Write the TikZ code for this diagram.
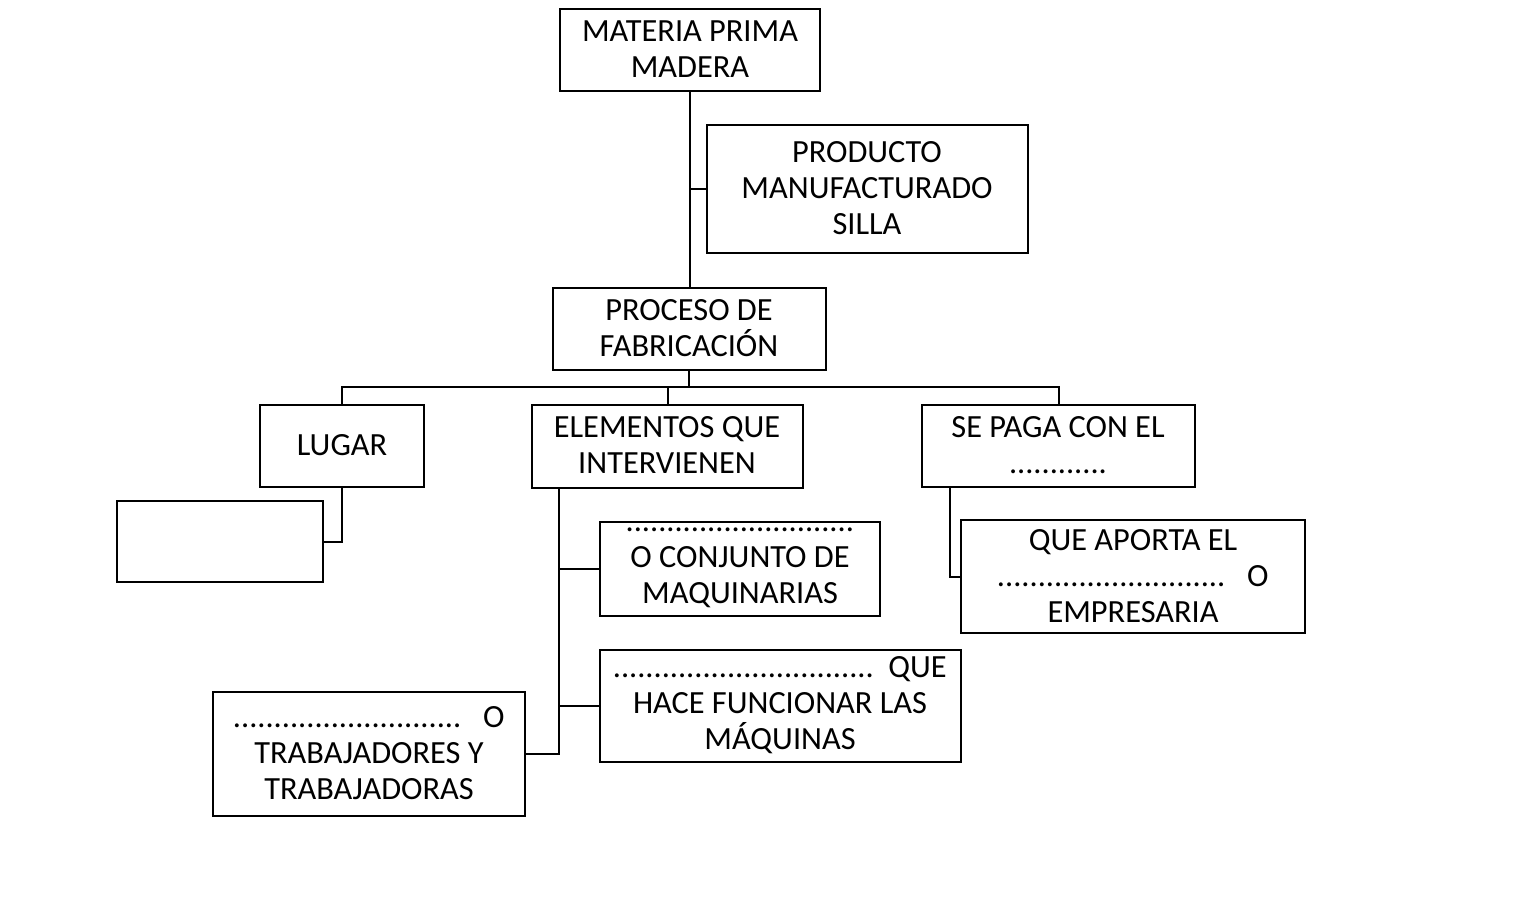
\documentclass[tikz,border=0pt]{standalone}
\usepackage{fontspec}
\setmainfont{Carlito}
\begin{document}
\begin{tikzpicture}[x=0.01cm,y=-0.01cm,
  box/.style={draw,line width=0.6pt,minimum width=#1},
  lbl/.style={align=center,font=\fontsize{9.2}{10.3}\selectfont,inner sep=0pt},
  ln/.style={line width=0.6pt}]
\useasboundingbox (0,0) rectangle (1519,921);
\newcommand\bx[5]{\draw[ln] (#2,#3) rectangle (#4,#5); \coordinate (#1) at ({(#2+#4)/2},{(#3+#5)/2});}
\bx{A}{560}{9}{820}{91}
\bx{B}{707}{125}{1028}{253}
\bx{C}{553}{288}{826}{370}
\bx{D}{260}{405}{424}{487}
\bx{E}{532}{405}{803}{488}
\bx{F}{922}{405}{1195}{487}
\bx{G}{117}{501}{323}{582}
\bx{H}{600}{522}{880}{616}
\bx{I}{600}{650}{961}{762}
\bx{J}{213}{692}{525}{816}
\bx{K}{961}{520}{1305}{633}
\node[lbl] (tA) at (690,49) {MATERIA PRIMA\\MADERA};
\node[lbl] (tB) at (867,188) {PRODUCTO\\MANUFACTURADO\\SILLA};
\node[lbl] (tC) at (689,328) {PROCESO DE\\FABRICACIÓN};
\node[lbl] (tD) at (342,445) {LUGAR};
\node[lbl] (tE) at (667,445) {ELEMENTOS QUE\\INTERVIENEN};
\node[lbl] (tF) at (1058,445) {SE PAGA CON EL\\............};
\node[lbl] (tH) at (740,568) {............................\\O CONJUNTO DE\\MAQUINARIAS};
\node[lbl] (tI) at (780,705) {................................\ \ QUE\\HACE FUNCIONAR LAS\\MÁQUINAS};
\node[lbl] (tJ) at (369,753) {............................\ \ \ O\\TRABAJADORES Y\\TRABAJADORAS};
\node[lbl] (tK) at (1133,576) {QUE APORTA EL\\............................\ \ \ O\\EMPRESARIA};
\draw[ln] (690,91) -- (690,288);
\draw[ln] (690,189) -- (707,189);
\draw[ln] (689,370) -- (689,387);
\draw[ln] (342,405) -- (342,387) -- (1059,387) -- (1059,405);
\draw[ln] (668,387) -- (668,405);
\draw[ln] (342,487) -- (342,542) -- (323,542);
\draw[ln] (559,488) -- (559,754) -- (525,754);
\draw[ln] (559,569) -- (600,569);
\draw[ln] (559,706) -- (600,706);
\draw[ln] (950,487) -- (950,577) -- (961,577);
\end{tikzpicture}
\end{document}
